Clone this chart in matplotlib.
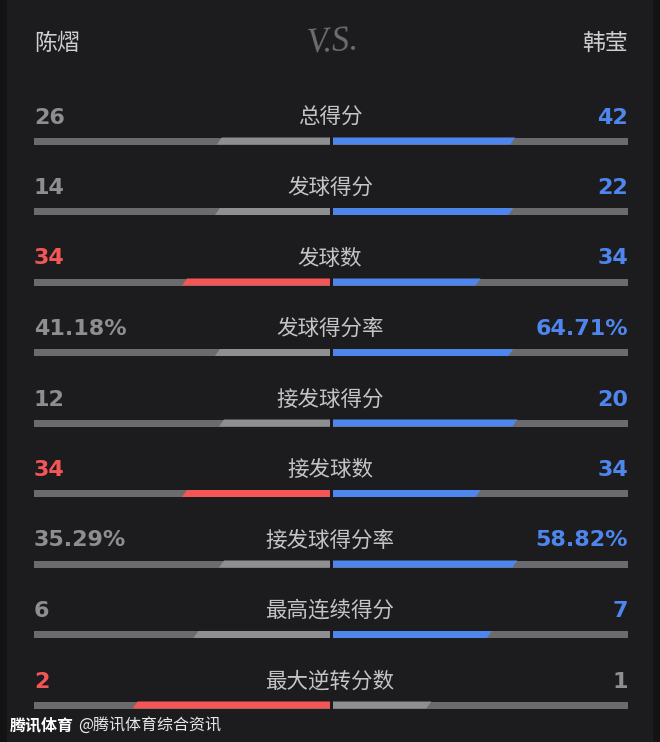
import matplotlib
matplotlib.use("Agg")
import matplotlib.pyplot as plt

# data
player_left = "陈熠"
player_right = "韩莹"
labels = ["总得分", "发球得分", "发球数", "发球得分率", "接发球得分",
          "接发球数", "接发球得分率", "最高连续得分", "最大逆转分数"]
left_vals = [26, 14, 34, 41.18, 12, 34, 35.29, 6, 2]
right_vals = [42, 22, 34, 64.71, 20, 34, 58.82, 7, 1]
left_text = ["26", "14", "34", "41.18%", "12", "34", "35.29%", "6", "2"]
right_text = ["42", "22", "34", "64.71%", "20", "34", "58.82%", "7", "1"]

# colours
bg = "#1c1c1e"
edge_bg = "#131314"
track = "#6b6b6d"
light = "#8f8f91"
red = "#f45656"
blue = "#4f86ee"
grey_txt = "#8e8e90"
label_txt = "#c4c4c6"

cjk = ["Noto Sans CJK SC", "DejaVu Sans"]
num_font = ["DejaVu Sans"]

W, H = 660, 742
fig = plt.figure(figsize=(W / 100, H / 100), dpi=100, facecolor=edge_bg)
ax = fig.add_axes([0, 0, 1, 1])
ax.set_xlim(0, W)
ax.set_ylim(H, 0)
ax.axis("off")
ax.add_patch(plt.Rectangle((7, 0), W - 15, H, color=bg, zorder=0))

x_l, x_c, x_r = 34, 330, 628
gap = 3
bar_h = 7
slant = 5
row0, step = 116, 70.5


def para(x0, x1, y, color, side):
    # parallelogram with "/" slanted outer end
    top, bot = y - bar_h / 2, y + bar_h / 2
    if side == "left":
        xs = [x1, x0 + slant, x0, x1]
    else:
        xs = [x0, x1, x1 - slant, x0]
    ax.fill(xs, [top, top, bot, bot], color=color, lw=0, zorder=3)


# header
ax.text(x_l, 43, player_left, family=cjk, fontsize=16.5, color="#cfcfd1",
        ha="left", va="center")
ax.text(x_r, 43, player_right, family=cjk, fontsize=16.5, color="#cfcfd1",
        ha="right", va="center")
ax.text(x_c + 2, 43, "V.S.", family="Liberation Serif", style="italic",
        fontsize=25, color="#6e6e70", ha="center", va="center", rotation=4)

for i, lab in enumerate(labels):
    y = row0 + i * step
    lv, rv = left_vals[i], right_vals[i]
    tot = lv + rv
    lf, rf = lv / tot, rv / tot
    l_win = lv >= rv
    r_win = rv >= lv
    lc = red if l_win else light
    rc = blue if r_win else light

    ax.text(x_c, y + 1.5, lab, family=cjk, fontsize=15.5, color=label_txt,
            ha="center", va="center")
    ax.text(x_l, y + 1.5, left_text[i], family=num_font, fontsize=16,
            weight="bold", color=red if l_win else grey_txt,
            ha="left", va="center")
    ax.text(x_r, y + 1.5, right_text[i], family=num_font, fontsize=16,
            weight="bold", color=blue if r_win else grey_txt,
            ha="right", va="center")

    by = y + 25
    ax.add_patch(plt.Rectangle((x_l, by - bar_h / 2), x_c - x_l, bar_h,
                               color=track, lw=0, zorder=2))
    ax.add_patch(plt.Rectangle((x_c + gap, by - bar_h / 2), x_r - x_c - gap,
                               bar_h, color=track, lw=0, zorder=2))
    llen = lf * (x_c - x_l)
    rlen = rf * (x_r - x_c - gap)
    para(x_c - llen, x_c, by, lc, "left")
    para(x_c + gap, x_c + gap + rlen, by, rc, "right")

# footer
t1 = ax.text(10, 725, "腾讯体育", family=cjk, fontsize=11.5, weight="bold",
             color="white", ha="left", va="center")
ax.annotate("@腾讯体育综合资讯", xy=(1, 0.5), xycoords=t1, xytext=(3, 0),
            textcoords="offset points", family=cjk, fontsize=11.5,
            color="#e8e8e8", ha="left", va="center")

fig.savefig("out.png", dpi=100, facecolor=edge_bg)
